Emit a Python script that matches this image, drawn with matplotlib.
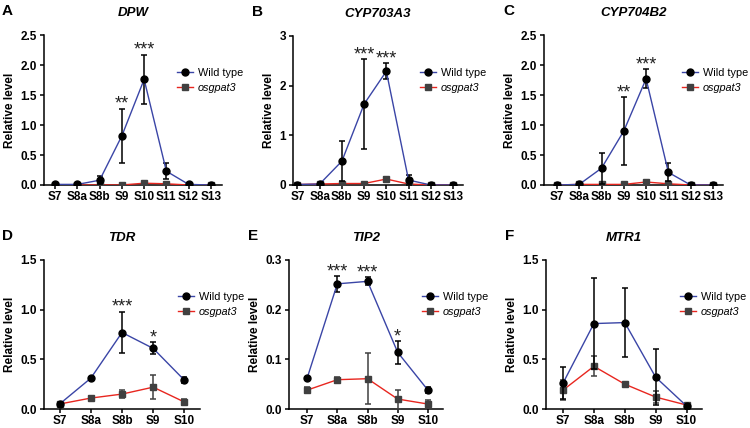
import numpy as np
import matplotlib
matplotlib.use('Agg')
import matplotlib.pyplot as plt
from matplotlib.lines import Line2D

plt.rcParams['font.family'] = ['Liberation Sans', 'DejaVu Sans']

W, H = 750, 428

stages_long = ['S7', 'S8a', 'S8b', 'S9', 'S10', 'S11', 'S12', 'S13']
stages_short = ['S7', 'S8a', 'S8b', 'S9', 'S10']

# A DPW
dpw_wt = [0.01, 0.01, 0.08, 0.82, 1.76, 0.23, 0.01, 0.0]
dpw_wt_err = [0.0, 0.0, 0.07, 0.45, 0.41, 0.13, 0.0, 0.0]
dpw_mut = [0.0, 0.0, 0.0, 0.0, 0.03, 0.02, 0.0, 0.0]
dpw_mut_err = [0.0, 0.0, 0.0, 0.0, 0.01, 0.01, 0.0, 0.0]
dpw_stars = [(3, '**'), (4, '***')]

# B CYP703A3
cyp703_wt = [0.01, 0.02, 0.48, 1.63, 2.29, 0.10, 0.0, 0.0]
cyp703_wt_err = [0.0, 0.0, 0.40, 0.90, 0.16, 0.10, 0.0, 0.0]
cyp703_mut = [0.01, 0.02, 0.03, 0.03, 0.12, 0.02, 0.0, 0.0]
cyp703_mut_err = [0.0, 0.0, 0.01, 0.01, 0.05, 0.01, 0.0, 0.0]
cyp703_stars = [(3, '***'), (4, '***')]

# C CYP704B2
cyp704_wt = [0.0, 0.01, 0.28, 0.90, 1.77, 0.21, 0.0, 0.0]
cyp704_wt_err = [0.0, 0.0, 0.26, 0.56, 0.16, 0.15, 0.0, 0.0]
cyp704_mut = [0.0, 0.01, 0.01, 0.01, 0.05, 0.02, 0.0, 0.0]
cyp704_mut_err = [0.0, 0.0, 0.0, 0.0, 0.01, 0.01, 0.0, 0.0]
cyp704_stars = [(3, '**'), (4, '***')]

# D TDR
tdr_wt = [0.05, 0.31, 0.77, 0.61, 0.29]
tdr_wt_err = [0.01, 0.01, 0.21, 0.06, 0.03]
tdr_mut = [0.05, 0.11, 0.15, 0.22, 0.07]
tdr_mut_err = [0.02, 0.01, 0.04, 0.12, 0.03]
tdr_stars = [(2, '***'), (3, '*')]

# E TIP2
tip2_wt = [0.062, 0.252, 0.257, 0.114, 0.038]
tip2_wt_err = [0.002, 0.016, 0.008, 0.023, 0.006]
tip2_mut = [0.038, 0.059, 0.061, 0.020, 0.010]
tip2_mut_err = [0.006, 0.006, 0.051, 0.019, 0.008]
tip2_stars = [(1, '***'), (2, '***'), (3, '*')]

# F MTR1
mtr1_wt = [0.26, 0.86, 0.87, 0.32, 0.03]
mtr1_wt_err = [0.16, 0.46, 0.35, 0.28, 0.02]
mtr1_mut = [0.19, 0.43, 0.25, 0.12, 0.04]
mtr1_mut_err = [0.10, 0.10, 0.01, 0.06, 0.01]
mtr1_stars = []

blue = '#3a45a6'
red = '#e8261f'
fs = 8.5

panels = [
    # letter, title, stages, wt, wt_err, mut, mut_err, stars, ymax, yticks, fmt, axes px (l, r, t, b), xlim, legend px
    ('A', 'DPW', stages_long, dpw_wt, dpw_wt_err, dpw_mut, dpw_mut_err, dpw_stars,
     2.5, [0, 0.5, 1.0, 1.5, 2.0, 2.5], '%.1f', (44, 222, 35, 185), (-0.5, 7.5), (177, 76)),
    ('B', 'CYP703A3', stages_long, cyp703_wt, cyp703_wt_err, cyp703_mut, cyp703_mut_err, cyp703_stars,
     3, [0, 1, 2, 3], '%d', (293, 463, 36, 185), (-0.2, 7.45), (420, 76)),
    ('C', 'CYP704B2', stages_long, cyp704_wt, cyp704_wt_err, cyp704_mut, cyp704_mut_err, cyp704_stars,
     2.5, [0, 0.5, 1.0, 1.5, 2.0, 2.5], '%.1f', (544, 723, 35, 185), (-0.58, 7.45), (682, 76)),
    ('D', 'TDR', stages_short, tdr_wt, tdr_wt_err, tdr_mut, tdr_mut_err, tdr_stars,
     1.5, [0, 0.5, 1.0, 1.5], '%.1f', (44, 200, 260, 409), (-0.5, 4.5), (178, 300)),
    ('E', 'TIP2', stages_short, tip2_wt, tip2_wt_err, tip2_mut, tip2_mut_err, tip2_stars,
     0.3, [0, 0.1, 0.2, 0.3], '%.1f', (289, 443, 260, 409), (-0.6, 4.5), (422, 300)),
    ('F', 'MTR1', stages_short, mtr1_wt, mtr1_wt_err, mtr1_mut, mtr1_mut_err, mtr1_stars,
     1.5, [0, 0.5, 1.0, 1.5], '%.1f', (546, 702, 260, 409), (-0.55, 4.5), (680, 300)),
]

fig = plt.figure(figsize=(W / 100, H / 100), dpi=100)

for (letter, title, stages, wt, wt_err, mut, mut_err, stars, ymax, yticks, fmt,
     box, xlim, leg) in panels:
    l, r, t, b = box
    ax = fig.add_axes([l / W, 1 - b / H, (r - l) / W, (b - t) / H])
    x = np.arange(len(stages))

    ax.errorbar(x, mut, yerr=mut_err, color=red, lw=1.0, marker='s', ms=5,
                mfc='#404040', mec='#404040', ecolor='#404040', elinewidth=1.1,
                capsize=2, capthick=1.1, zorder=3)
    ax.errorbar(x, wt, yerr=wt_err, color=blue, lw=1.0, marker='o', ms=5,
                mfc='black', mec='black', ecolor='black', elinewidth=1.1,
                capsize=2, capthick=1.1, zorder=4)

    for idx, s in stars:
        top = wt[idx] + wt_err[idx]
        ax.annotate(s, (x[idx], top), xytext=(0, -3), textcoords='offset points',
                    ha='center', va='bottom', fontsize=13, color='#222222')

    ax.set_xlim(*xlim)
    ax.set_ylim(0, ymax)
    ax.set_xticks(x)
    ax.set_xticklabels(stages, fontsize=fs, fontweight='bold')
    ax.set_yticks(yticks)
    ax.set_yticklabels([fmt % v for v in yticks], fontsize=fs, fontweight='bold')
    ax.set_ylabel('Relative level', fontsize=fs, fontweight='bold', labelpad=3)
    for side in ['top', 'right']:
        ax.spines[side].set_visible(False)
    for side in ['left', 'bottom']:
        ax.spines[side].set_linewidth(1.1)
    ax.tick_params(width=1.1, length=3, pad=2)
    ax.tick_params(axis='x', pad=1.2)

    fig.text((l + r) / 2 / W, 1 - (t - 22) / H, title, ha='center', va='center',
             fontsize=9.5, fontweight='bold', fontstyle='italic')
    fig.text((2 if l < 100 else l - 41) / W, 1 - (t - 24) / H, letter,
             ha='left', va='center', fontsize=11, fontweight='bold')

    handles = [Line2D([], [], color=blue, lw=1.0, marker='o', ms=5, mfc='black', mec='black'),
               Line2D([], [], color=red, lw=1.0, marker='s', ms=5, mfc='#404040', mec='#404040')]
    lg = ax.legend(handles, ['Wild type', 'osgpat3'], loc='upper left',
                   bbox_to_anchor=(leg[0] / W, 1 - (leg[1] - 8) / H),
                   bbox_transform=fig.transFigure, frameon=False,
                   fontsize=7.8, handlelength=1.5, handletextpad=0.4,
                   borderpad=0, borderaxespad=0, labelspacing=0.45)
    lg.get_texts()[1].set_fontstyle('italic')

fig.savefig('out.png', dpi=100)
